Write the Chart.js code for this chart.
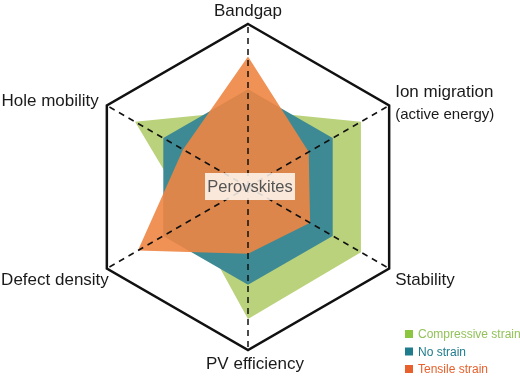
<!DOCTYPE html>
<html>
<head>
<meta charset="utf-8">
<script src="https://cdn.jsdelivr.net/npm/chart.js@4"></script>
<style>
  body { margin: 0; background: #fff; }
  #wrap { width: 520px; height: 379px; position: relative; }
</style>
</head>
<body>
<div id="wrap"><canvas id="strainRadar"></canvas></div>
<script>
// axes (clockwise from the top)
const labels = ["Bandgap", ["Ion migration", "(active energy)"], "Stability", "PV efficiency", "Defect density", "Hole mobility"];
// values as a fraction of the outer hexagon
const compressive = [0.47, 0.80, 0.80, 0.81, 0.39, 0.80];
const noStrain = [0.60, 0.60, 0.60, 0.60, 0.60, 0.60];
const tensile = [0.80, 0.43, 0.44, 0.41, 0.78, 0.46];
const seriesNames = ["Compressive strain", "No strain", "Tensile strain"];

const FONT = "'Liberation Sans', Arial, sans-serif";

// axis titles, drawn next to each outer vertex
const axisLabels = {
    id: "axisLabels",
    afterDraw(chart) {
        const ctx = chart.ctx;
        const r = chart.scales.r;
        const place = [
            { dx: 0, dy: -8, align: "center" },
            { dx: 6, dy: -9, align: "left" },
            { dx: 6, dy: 16, align: "left" },
            { dx: 7, dy: 19, align: "center" },
            { dx: 2, dy: 16, align: "right" },
            { dx: -8, dy: 0, align: "right" }
        ];
        ctx.save();
        ctx.fillStyle = "#1a1a1a";
        ctx.textBaseline = "alphabetic";
        labels.forEach((lab, i) => {
            const p = r.getPointPosition(i, r.drawingArea);
            const pl = place[i];
            ctx.textAlign = pl.align;
            if (Array.isArray(lab)) {
                ctx.font = "17px " + FONT;
                ctx.fillText(lab[0], p.x + pl.dx, p.y + pl.dy);
                ctx.font = "15px " + FONT;
                ctx.fillText(lab[1], p.x + pl.dx, p.y + pl.dy + 22);
            } else {
                ctx.font = "17px " + FONT;
                ctx.fillText(lab, p.x + pl.dx, p.y + pl.dy);
            }
        });

        // centre tag
        const cx = r.xCenter + 2, cy = r.yCenter;
        ctx.fillStyle = "rgba(255,248,242,0.86)";
        ctx.fillRect(cx - 45, cy - 14, 90, 27);
        ctx.fillStyle = "#555";
        ctx.font = "16.5px " + FONT;
        ctx.textAlign = "center";
        ctx.textBaseline = "middle";
        ctx.fillText("Perovskites", cx, cy);

        // legend, bottom right
        const legendColors = [["#8cc63f", "#93c25a"], ["#1f7c8c", "#1f7c8c"], ["#e8602c", "#e8602c"]];
        ctx.font = "12px " + FONT;
        ctx.textAlign = "left";
        seriesNames.forEach((name, i) => {
            const y = 334 + i * 17.5;
            ctx.fillStyle = legendColors[i][0];
            ctx.fillRect(405, y - 4, 8, 8);
            ctx.fillStyle = legendColors[i][1];
            ctx.fillText(name, 418, y + 1);
        });
        ctx.restore();
    }
};

const ctx = document.getElementById("strainRadar").getContext("2d");

new Chart(ctx, {
    type: "radar",
    data: {
        labels: labels,
        datasets: [
            {
                label: seriesNames[2],
                data: tensile,
                backgroundColor: "rgba(238,133,66,0.9)",
                borderWidth: 0,
                fill: true
            },
            {
                label: seriesNames[1],
                data: noStrain,
                backgroundColor: "rgb(62,138,148)",
                borderWidth: 0,
                fill: true
            },
            {
                label: seriesNames[0],
                data: compressive,
                backgroundColor: "rgb(186,210,124)",
                borderWidth: 0,
                fill: true
            }
        ]
    },
    options: {
        responsive: true,
        maintainAspectRatio: false,
        animation: false,
        layout: { padding: { left: 84, right: 108, top: 24, bottom: 28 } },
        elements: { point: { radius: 0, hoverRadius: 0 }, line: { tension: 0 } },
        plugins: { legend: { display: false }, tooltip: { enabled: false } },
        scales: {
            r: {
                min: 0,
                max: 1,
                ticks: { display: false, stepSize: 1 },
                pointLabels: { display: false },
                grid: { z: 1, circular: false, color: "#111", lineWidth: 2.5 },
                angleLines: { color: "#111", lineWidth: 1.5, borderDash: [6, 5] }
            }
        }
    },
    plugins: [axisLabels]
});
</script>
</body>
</html>
